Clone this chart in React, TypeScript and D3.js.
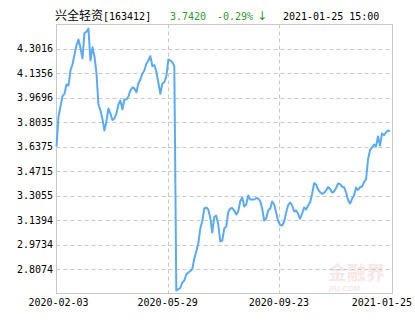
import React from "react";
import * as d3 from "d3";

const title = "兴全轻资";
const code = "[163412]";
const lastPrice = "3.7420";
const change = "-0.29%";
const arrow = "↓";
const stamp = "2021-01-25 15:00";

const xLabels = ["2020-02-03", "2020-05-29", "2020-09-23", "2021-01-25"];
const yTicks = [2.8074, 2.9734, 3.1394, 3.3055, 3.4715, 3.6375, 3.8035, 3.9696, 4.1356, 4.3016];
const yMin = 2.6414;
const yMax = 4.4676;

const nav = [
  3.6393, 3.8430, 3.9109, 3.9808, 3.9971, 4.0603, 4.0535, 4.1553, 4.1960, 4.2639,
  4.3250, 4.3658, 4.3094, 4.2368, 4.4112, 4.4180, 4.4404, 4.2232, 4.3135, 4.2524,
  4.1397, 3.9245, 3.8837, 3.8274, 3.7480, 3.8111, 3.8973, 3.8634, 3.8192, 3.8294,
  3.8634, 3.9245, 3.9516, 3.8905, 3.9584, 3.9584, 3.9788, 4.0195, 4.0399, 4.0331,
  4.0080, 4.0670, 4.0942, 4.1349, 4.1553, 4.2008, 4.2232, 4.2524, 4.1845, 4.1926,
  4.1485, 4.0738, 3.9971, 4.0670, 4.0759, 4.1146, 4.2300, 4.2232, 4.2117, 4.1845,
  2.6617, 2.6705, 2.6787, 2.7160, 2.7296, 2.7703, 2.7839, 2.7941, 2.8077, 2.8790,
  2.9265, 2.9808, 3.0826, 3.1336, 3.2184, 3.2252, 3.2116, 3.1573, 3.0555, 3.1607,
  3.1709, 3.1098, 2.9944, 3.0012, 3.0826, 3.0962, 3.1947, 3.2184, 3.2218, 3.2048,
  3.1777, 3.1981, 3.2659, 3.2931, 3.2320, 3.2456, 3.3067, 3.2795, 3.2795, 3.2795,
  3.2897, 3.2863, 3.2693, 3.2184, 3.1370, 3.1505, 3.2048, 3.2184, 3.2659, 3.2456,
  3.1913, 3.1336, 3.1064, 3.1030, 3.1302, 3.1913, 3.2422, 3.2592, 3.2388, 3.1981,
  3.2048, 3.1824, 3.1485, 3.1845, 3.2252, 3.2116, 3.2388, 3.2592, 3.3182, 3.3902,
  3.3814, 3.3474, 3.3291, 3.3182, 3.3250, 3.3406, 3.3644, 3.3508, 3.3270, 3.3338,
  3.3576, 3.3881, 3.3848, 3.3664, 3.3630, 3.3270, 3.2761, 3.2524, 3.2843, 3.3067,
  3.3610, 3.3440, 3.3630, 3.3678, 3.3976, 3.4153, 3.5511, 3.6156, 3.6325, 3.6529,
  3.6393, 3.7072, 3.6461, 3.7276, 3.7174, 3.7344, 3.7480, 3.7420,
];

const W = 415;
const H = 330;
const left = 56.5;
const right = 392.5;
const top = 24.5;
const bottom = 293.5;
const dataRight = 390;

const mono = "'DejaVu Sans Mono', monospace";
const cjk = "'Noto Sans CJK SC', sans-serif";
const green = "#2f9a2f";
const grid = "#c8c8c8";

export default function App() {
  const n = nav.length;
  const x = d3.scaleLinear().domain([0, n - 1]).range([left, dataRight]);
  const y = d3.scaleLinear().domain([yMin, yMax]).range([bottom, top]);
  const line = d3
    .line<number>()
    .x((_, i) => x(i))
    .y((d) => y(d));
  const tickIdx = xLabels.map((_, i) => (i * (n - 1)) / (xLabels.length - 1));

  return (
    <svg
      width={W}
      height={H}
      style={{ position: "absolute", left: 0, top: 0, background: "#fff" }}
    >
      {/* title */}
      <text y={19.5} fontSize={10} fontFamily={mono} fill="#000">
        <tspan x={55} fontFamily={cjk} fontSize={12}>{title}</tspan>
        <tspan x={103}>{code}</tspan>
      </text>
      <text x={170} y={19.5} fontSize={10} fontFamily={mono} fill={green}>{lastPrice}</text>
      <text x={217} y={19.5} fontSize={10} fontFamily={mono} fill={green}>{change}</text>
      <text x={257} y={20} fontSize={12} fontFamily="'DejaVu Sans', sans-serif" fill={green}>{arrow}</text>
      <text x={283} y={19.5} fontSize={10} fontFamily={mono} fill="#000">{stamp}</text>

      {/* watermark */}
      <g opacity={0.25}>
        <text x={328} y={280} fontSize={19} fontWeight="bold" fontFamily={cjk} fill="#e8a0a0">金融界</text>
        <text x={329} y={291} fontSize={7} fontStyle="italic" fontWeight="bold" fontFamily="'DejaVu Sans', sans-serif" fill="#e8a0a0">JRJ.COM</text>
      </g>

      {/* horizontal grid */}
      {yTicks.map((t) => (
        <line
          key={"h" + t}
          x1={left}
          x2={right}
          y1={Math.round(y(t)) + 0.5}
          y2={Math.round(y(t)) + 0.5}
          stroke={grid}
          strokeDasharray="4,3"
        />
      ))}
      {/* vertical grid */}
      {tickIdx.slice(1, -1).map((t) => (
        <line
          key={"v" + t}
          x1={Math.round(x(t)) + 0.5}
          x2={Math.round(x(t)) + 0.5}
          y1={top}
          y2={bottom}
          stroke={grid}
          strokeDasharray="4,3"
        />
      ))}

      {/* frame */}
      <rect x={left} y={top} width={right - left} height={bottom - top} fill="none" stroke={grid} />

      {/* y labels */}
      {yTicks.map((t) => (
        <text
          key={"yl" + t}
          x={53}
          y={y(t) + 3.5}
          textAnchor="end"
          fontSize={10}
          fontFamily={mono}
          fill="#000"
        >
          {t.toFixed(4)}
        </text>
      ))}

      {/* x labels */}
      {xLabels.map((lab, i) => {
        const last = i === xLabels.length - 1;
        return (
          <text
            key={lab}
            x={last ? 412 : x(tickIdx[i]) + (i === 0 ? 2 : 0)}
            y={306}
            textAnchor={last ? "end" : "middle"}
            fontSize={10}
            fontFamily={mono}
            fill="#000"
          >
            {lab}
          </text>
        );
      })}

      {/* series */}
      <path d={line(nav) || ""} fill="none" stroke="#5aaaf6" strokeWidth={2} strokeLinejoin="round" />
    </svg>
  );
}
